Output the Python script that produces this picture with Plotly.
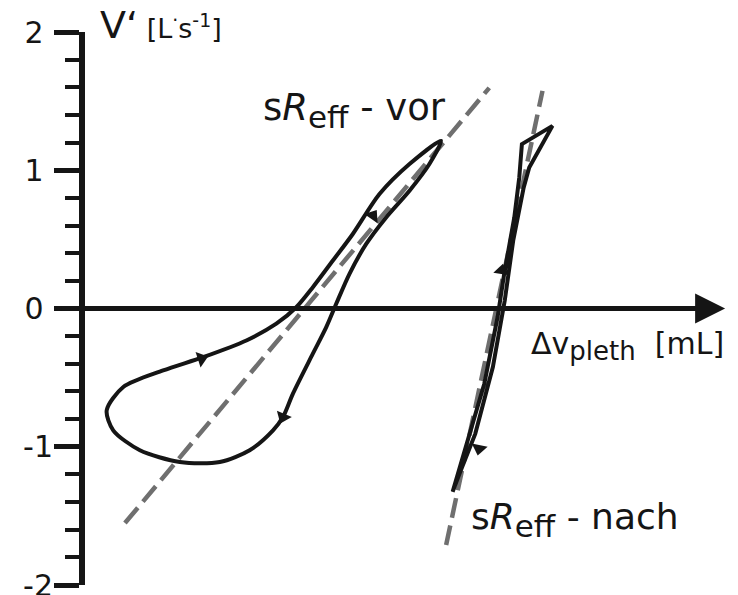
import plotly.graph_objects as go

# ---- data (x in arbitrary Δv_pleth units, y in L/s) ----
vor_x = [2.575, 2.491, 2.347, 2.178, 2.034, 1.913, 1.817, 1.745, 1.648, 1.504, 1.432, 1.360,
         1.191, 0.975, 0.686, 0.397, 0.204, 0.157, 0.277, 0.565, 0.854, 1.167, 1.384, 1.528,
         1.648, 1.793, 1.937, 2.130, 2.347, 2.575]
vor_y = [1.213, 1.045, 0.852, 0.659, 0.467, 0.251, 0.034, -0.135, -0.327, -0.616, -0.785, -0.881,
         -1.025, -1.110, -1.110, -1.025, -0.881, -0.736, -0.568, -0.448, -0.352, -0.231, -0.110, 0.009,
         0.154, 0.347, 0.539, 0.828, 1.045, 1.213]

nach_x = [2.659, 2.756, 2.888, 2.984, 3.032, 3.105, 3.141, 3.160, 3.381, 3.213, 3.173, 3.097,
          3.036, 2.950, 2.823, 2.700, 2.659]
nach_y = [-1.326, -1.001, -0.544, -0.063, 0.251, 0.659, 0.948, 1.189, 1.321, 1.020, 0.876, 0.491,
          0.058, -0.424, -0.905, -1.218, -1.326]

vor_fit_x = [0.289, 2.924]
vor_fit_y = [-1.552, 1.596]
nach_fit_x = [2.612, 3.309]
nach_fit_y = [-1.711, 1.574]

flow_x = [2.082, 0.842, 1.432, 3.015, 2.850]
flow_y = [0.671, -0.363, -0.785, 0.274, -1.013]
flow_dir = [34, 72, 203, 9, 191]

y_ticks = [-2, -1, 0, 1, 2]
y_ticktext = ["-2", "-1", "0\u00a0", "1\u00a0", "2\u00a0"]

FONT = "DejaVu Sans"
BLACK = "#151515"
GRAY = "#6f6f6f"

fig = go.Figure()

fig.add_trace(go.Scatter(x=vor_fit_x, y=vor_fit_y, mode="lines",
                         line=dict(color=GRAY, width=4.5, dash="20px,8px"), hoverinfo="skip"))
fig.add_trace(go.Scatter(x=nach_fit_x, y=nach_fit_y, mode="lines",
                         line=dict(color=GRAY, width=4.5, dash="20px,8px"), hoverinfo="skip"))
fig.add_trace(go.Scatter(x=vor_x, y=vor_y, mode="lines",
                         line=dict(color=BLACK, width=4, shape="spline", smoothing=0.8)))
fig.add_trace(go.Scatter(x=nach_x, y=nach_y, mode="lines",
                         line=dict(color=BLACK, width=4)))
fig.add_trace(go.Scatter(x=flow_x, y=flow_y, mode="markers",
                         marker=dict(symbol="triangle-up", size=14, color=BLACK, angle=flow_dir,
                                     line=dict(width=0))))

# x axis arrow through y = 0
fig.add_annotation(x=4.63, y=0, ax=-0.18, ay=0, xref="x", yref="y", axref="x", ayref="y",
                   text="", showarrow=True, arrowhead=2, arrowsize=1.2, arrowwidth=5,
                   arrowcolor=BLACK, standoff=0)

# y axis title (paper coords: above the top of the axis)
fig.add_annotation(x=0.02, y=1.012, xref="paper", yref="paper", xanchor="left", yanchor="middle",
                   showarrow=False,
                   text='<span style="font-size:38px">V‘</span> [L<sup>·</sup>s<sup>-1</sup>]',
                   font=dict(family=FONT, size=27, color=BLACK))
fig.add_annotation(x=1.27, y=1.43, xref="x", yref="y", xanchor="left", yanchor="middle",
                   showarrow=False,
                   text='s<i>R</i><sub><span style="font-size:31px">eff</span></sub> - vor',
                   font=dict(family=FONT, size=37, color=BLACK))
fig.add_annotation(x=2.78, y=-1.53, xref="x", yref="y", xanchor="left", yanchor="middle",
                   showarrow=False,
                   text='s<i>R</i><sub><span style="font-size:31px">eff</span></sub> - nach',
                   font=dict(family=FONT, size=36, color=BLACK))
fig.add_annotation(x=3.21, y=-0.27, xref="x", yref="y", xanchor="left", yanchor="middle",
                   showarrow=False,
                   text='Δv<sub><span style="font-size:26px">pleth</span></sub>  [mL]',
                   font=dict(family=FONT, size=30, color=BLACK))

# the page body has an 8 px margin: size the figure so that it ends at the window edge
fig.update_layout(
    width=730, height=587,
    margin=dict(l=77, r=0, t=24, b=10, autoexpand=False),
    paper_bgcolor="white", plot_bgcolor="white",
    showlegend=False,
    xaxis=dict(range=[0, 4.723], visible=False, fixedrange=True),
    yaxis=dict(range=[-2, 2], showgrid=False, zeroline=False, automargin=False,
               showline=True, linewidth=6, linecolor=BLACK,
               ticks="outside", ticklen=25, tickwidth=5, tickcolor=BLACK,
               tickvals=y_ticks, ticktext=y_ticktext, ticklabelstandoff=-5,
               ticklabeloverflow="allow",
               tickfont=dict(family=FONT, size=30, color=BLACK),
               minor=dict(ticks="outside", dtick=0.2, ticklen=14, tickwidth=4, tickcolor=BLACK,
                          showgrid=False),
               fixedrange=True),
)

fig.write_html("out.html")
